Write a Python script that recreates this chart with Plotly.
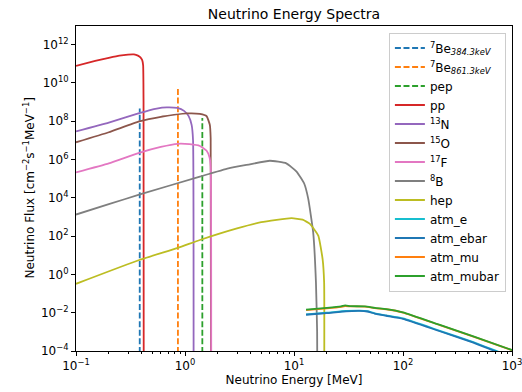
import plotly.graph_objects as go

# ---------------- data ----------------
be384_E = [0.3843, 0.3843]
be384_F = [1e-5, 4.5e8]
be861_E = [0.8613, 0.8613]
be861_F = [1e-5, 4.8e9]
pep_E = [1.442, 1.442]
pep_F = [1e-5, 1.44e8]

pp_E = [0.1, 0.15, 0.2, 0.25, 0.3, 0.34, 0.37, 0.39, 0.405, 0.413, 0.4165, 0.418]
pp_F = [7.6e10, 1.38e11, 2.0e11, 2.6e11, 2.95e11, 3.0e11, 2.6e11, 2.1e11, 1.5e11, 8e10, 1e9, 1e-5]

n13_E = [0.1, 0.2, 0.38, 0.55, 0.68, 0.85, 0.98, 1.08, 1.15, 1.185, 1.199]
n13_F = [2.9e7, 8.3e7, 2.6e8, 4.5e8, 5.2e8, 4.8e8, 3.4e8, 1.8e8, 6.3e7, 1e7, 1e-5]

o15_E = [0.1, 0.2, 0.38, 0.6, 1.04, 1.37, 1.58, 1.69, 1.72, 1.732]
o15_F = [7.8e6, 2.6e7, 9.5e7, 1.66e8, 2.5e8, 2.35e8, 1.78e8, 6.3e7, 1.26e7, 1e-5]

f17_E = [0.1, 0.2, 0.38, 0.6, 0.86, 1.1, 1.37, 1.58, 1.68, 1.72, 1.74]
f17_F = [2.1e5, 6.2e5, 2.2e6, 4.5e6, 6.5e6, 6.2e6, 5.0e6, 2.8e6, 1.26e6, 4e5, 1e-5]

b8_E = [0.1, 0.2, 0.386, 1.37, 2.5, 3.94, 6.0, 8.5, 10.6, 12.4, 13.5, 15.0, 15.9, 16.3, 16.36]
b8_F = [1.32e3, 4.6e3, 1.48e4, 1.26e5, 3.4e5, 5.5e5, 8.5e5, 6.2e5, 2.24e5, 5.5e4, 8.9e3, 1.55e2, 0.38, 1e-3, 1e-5]

hep_E = [0.1, 0.38, 0.86, 1.37, 3.0, 5.0, 9.5, 12.0, 14.0, 16.7, 18.3, 18.9, 18.95]
hep_F = [0.32, 5.6, 24, 62, 250, 525, 850, 710, 430, 105, 6.2, 0.38, 1e-5]

atm_e_E = [12.9, 20, 30, 40, 47, 55, 70, 100, 218, 442, 698, 1000]
atm_e_F = [8.1e-3, 9.9e-3, 1.22e-2, 1.29e-2, 1.2e-2, 9.3e-3, 7.2e-3, 5.0e-3, 1.13e-3, 2.9e-4, 1.07e-4, 4.9e-5]
atm_ebar_E = [12.9, 20, 30, 40, 47, 55, 70, 100, 218, 442, 698, 1000]
atm_ebar_F = [7.8e-3, 9.5e-3, 1.17e-2, 1.23e-2, 1.15e-2, 8.9e-3, 6.9e-3, 4.8e-3, 1.07e-3, 2.75e-4, 1.0e-4, 4.6e-5]
atm_mu_E = [12.9, 20, 27, 29.4, 33, 44.8, 55.3, 70, 100, 218, 442, 1000]
atm_mu_F = [1.35e-2, 1.66e-2, 2.0e-2, 2.19e-2, 2.14e-2, 2.09e-2, 1.74e-2, 1.51e-2, 1.02e-2, 2.24e-3, 5.62e-4, 1.1e-4]
atm_mubar_E = [12.9, 20, 27, 29.4, 33, 44.8, 55.3, 70, 100, 218, 442, 1000]
atm_mubar_F = [1.45e-2, 1.78e-2, 2.14e-2, 2.4e-2, 2.19e-2, 2.14e-2, 1.78e-2, 1.55e-2, 1.05e-2, 2.29e-3, 5.75e-4, 1.12e-4]

x_tickvals = [0.1, 1, 10, 100, 1000]
x_ticktext = ["10<sup>−1</sup>", "10<sup>0</sup>", "10<sup>1</sup>", "10<sup>2</sup>", "10<sup>3</sup>"]
y_tickvals = [1e-4, 1e-2, 1e0, 1e2, 1e4, 1e6, 1e8, 1e10, 1e12]
y_ticktext = ["10<sup>−4</sup>", "10<sup>−2</sup>", "10<sup>0</sup>", "10<sup>2</sup>", "10<sup>4</sup>",
              "10<sup>6</sup>", "10<sup>8</sup>", "10<sup>10</sup>", "10<sup>12</sup>"]

series = [
    ("<sup>7</sup>Be<sub><i>384.3keV</i></sub>", be384_E, be384_F, "#1f77b4", True),
    ("<sup>7</sup>Be<sub><i>861.3keV</i></sub>", be861_E, be861_F, "#ff7f0e", True),
    ("pep", pep_E, pep_F, "#2ca02c", True),
    ("pp", pp_E, pp_F, "#d62728", False),
    ("<sup>13</sup>N", n13_E, n13_F, "#9467bd", False),
    ("<sup>15</sup>O", o15_E, o15_F, "#8c564b", False),
    ("<sup>17</sup>F", f17_E, f17_F, "#e377c2", False),
    ("<sup>8</sup>B", b8_E, b8_F, "#7f7f7f", False),
    ("hep", hep_E, hep_F, "#bcbd22", False),
    ("atm_e", atm_e_E, atm_e_F, "#17becf", False),
    ("atm_ebar", atm_ebar_E, atm_ebar_F, "#1f77b4", False),
    ("atm_mu", atm_mu_E, atm_mu_F, "#ff7f0e", False),
    ("atm_mubar", atm_mubar_E, atm_mubar_F, "#2ca02c", False),
]

fig = go.Figure()
for name, xs, ys, color, dashed in series:
    fig.add_trace(go.Scatter(
        x=xs, y=ys, mode="lines", name=name,
        line=dict(color=color, width=1.8, dash="6px,2.6px" if dashed else "solid",
                  shape="spline", smoothing=0.4),
        hoverinfo="skip",
    ))

font = "DejaVu Sans, Arial, sans-serif"
fig.update_layout(
    width=522, height=392,
    margin=dict(l=76, r=10, t=26, b=41),
    paper_bgcolor="white", plot_bgcolor="white",
    font=dict(family=font, size=12, color="black"),
    title=dict(text="Neutrino Energy Spectra", x=0.5, xref="paper", xanchor="center",
               y=1 - 14 / 392, yref="container", yanchor="middle",
               font=dict(size=14, family=font, color="black")),
    legend=dict(x=0.986, xanchor="right", y=0.98, yanchor="top",
                bgcolor="rgba(255,255,255,0.85)", bordercolor="#cccccc", borderwidth=1,
                font=dict(size=12, family=font), tracegroupgap=0),
    showlegend=True,
    annotations=[dict(
        text="Neutrino Flux [cm<sup>−2</sup>s<sup>−1</sup>MeV<sup>−1</sup>]",
        textangle=-90, xref="paper", yref="paper", x=(28 - 76) / 436, y=0.5,
        xanchor="center", yanchor="middle", showarrow=False,
        font=dict(size=12, family=font, color="black"),
    )],
)
fig.update_xaxes(
    type="log", range=[-1, 3], showgrid=False, zeroline=False, automargin=False,
    ticklabeloverflow="allow",
    showline=True, linecolor="black", linewidth=1, mirror=True,
    ticks="outside", ticklen=4, tickcolor="black",
    tickvals=x_tickvals, ticktext=x_ticktext, tickfont=dict(size=12),
    minor=dict(ticks="outside", ticklen=2, tickcolor="black", dtick="D1", showgrid=False),
    title=dict(text="Neutrino Energy [MeV]", standoff=3, font=dict(size=12)),
)
fig.update_yaxes(
    type="log", range=[-4, 12.96], showgrid=False, zeroline=False, automargin=False,
    ticklabeloverflow="allow",
    showline=True, linecolor="black", linewidth=1, mirror=True,
    ticks="outside", ticklen=4, tickcolor="black",
    tickvals=y_tickvals, ticktext=y_ticktext, tickfont=dict(size=12),
)

fig.write_html("out.html")
